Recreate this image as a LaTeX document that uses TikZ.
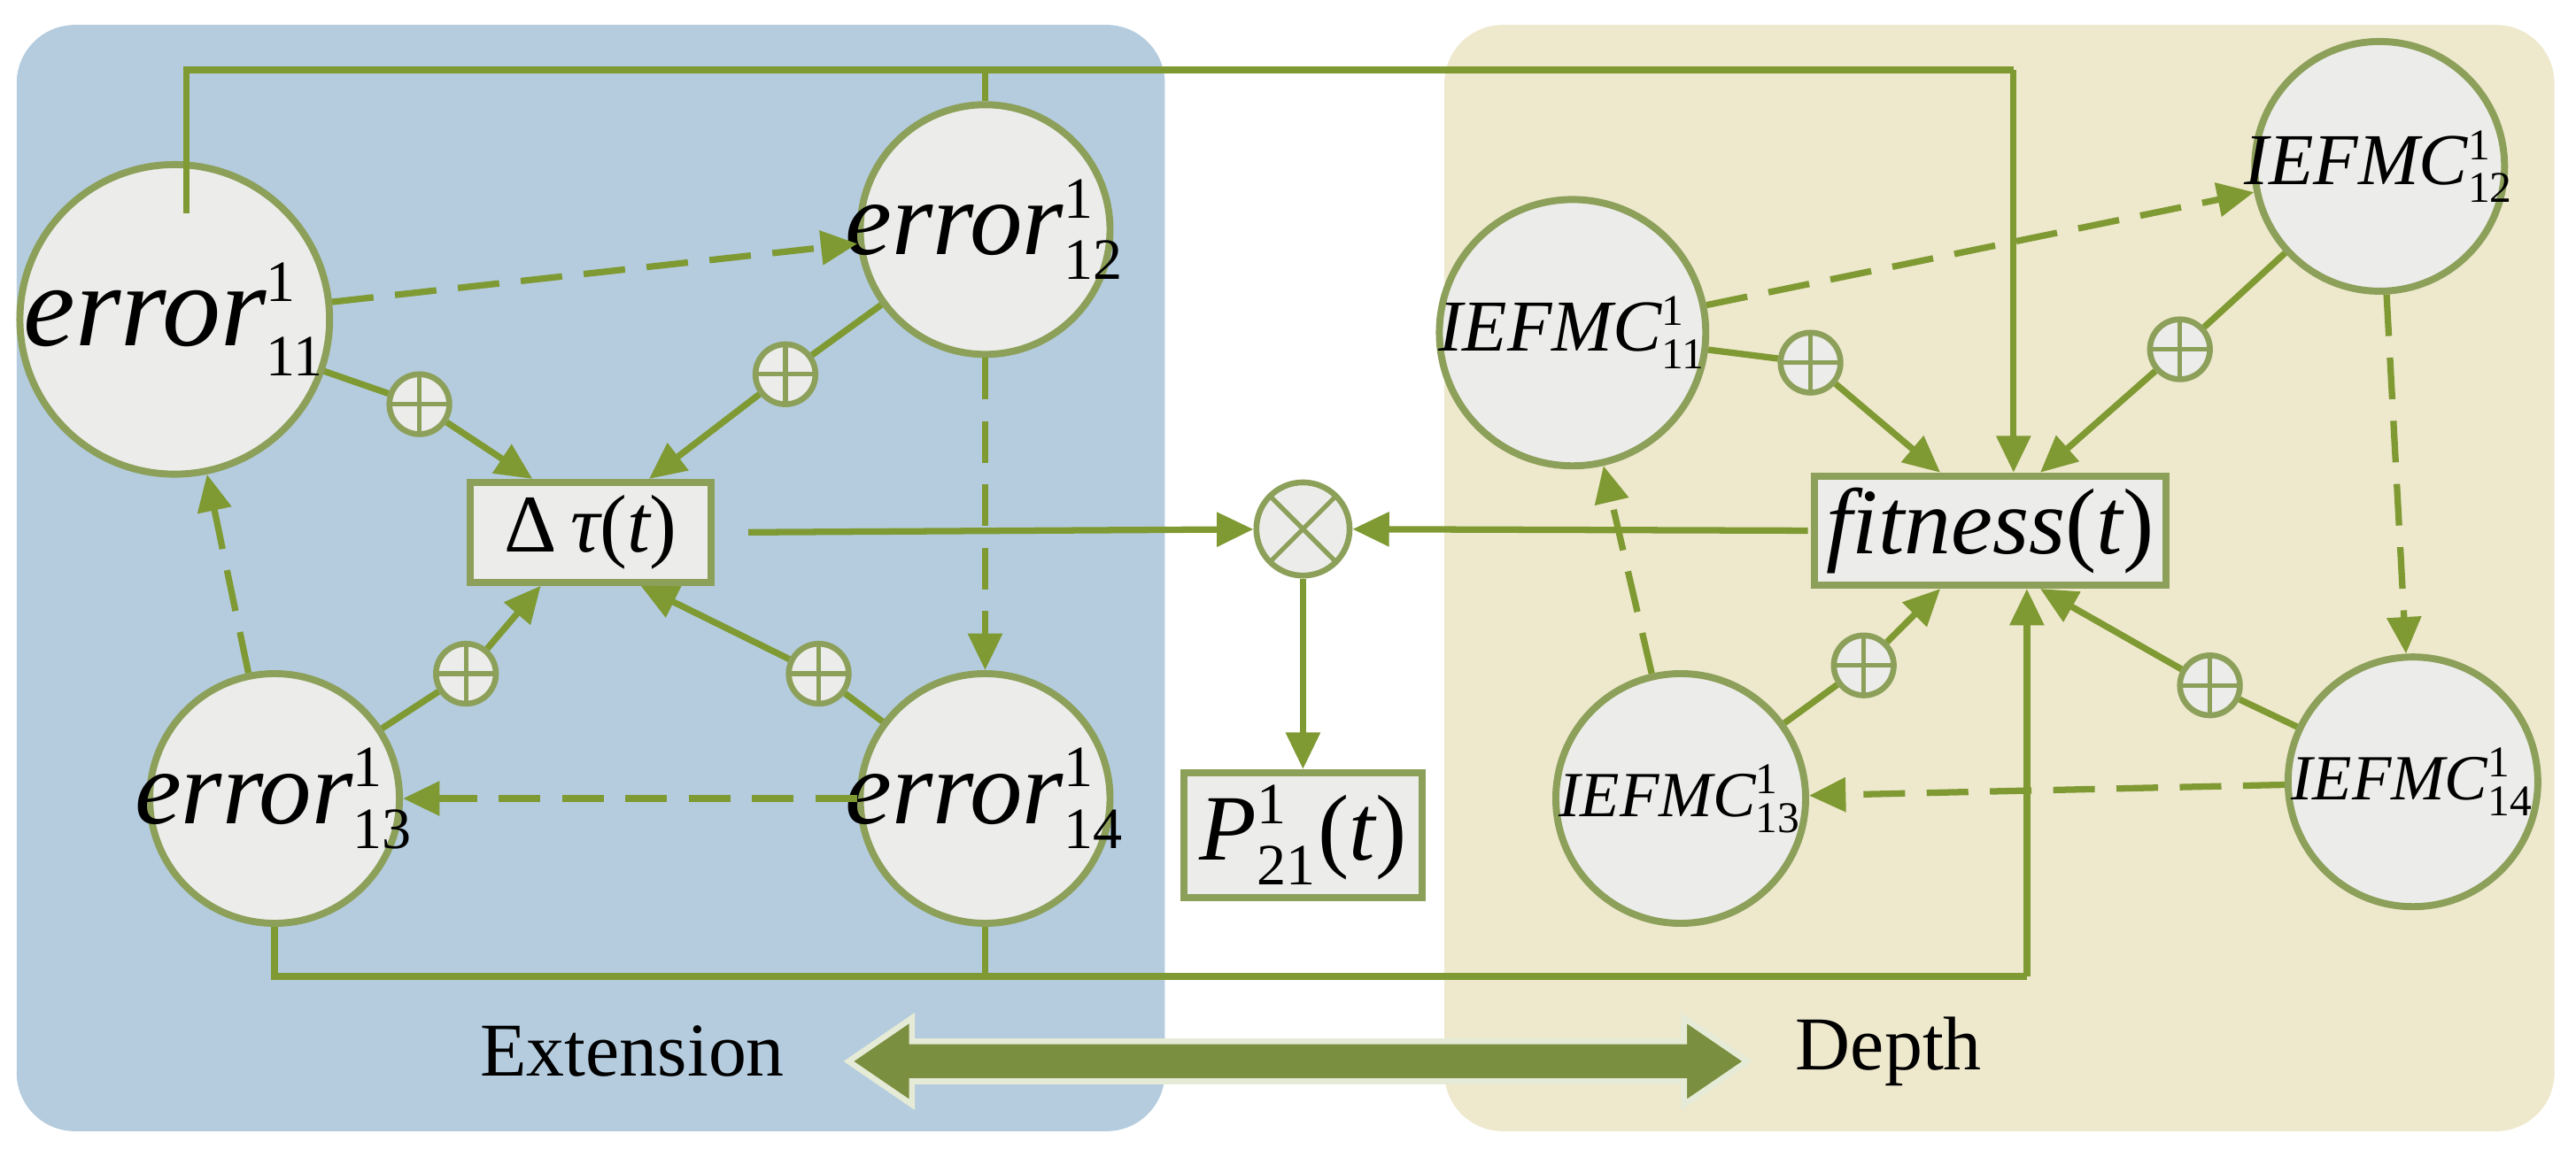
\documentclass[tikz,border=0pt]{standalone}
\usepackage{fontspec}
\setmainfont{Liberation Serif}
\usetikzlibrary{arrows.meta}
\definecolor{lg}{RGB}{127,154,50}
\definecolor{bluep}{RGB}{180,204,222}
\definecolor{beige}{RGB}{238,232,205}
\definecolor{cfill}{RGB}{236,236,234}
\definecolor{cdraw}{RGB}{140,160,90}
\newcommand\supsub[2]{$^{\mbox{\fontsize{10}{10}\selectfont\upshape #1}}_{\mbox{\fontsize{10}{10}\selectfont\upshape #2}}$}
\newcommand\supsubs[2]{$^{\mbox{\fontsize{7.5}{8}\selectfont\upshape #1}}_{\mbox{\fontsize{7.5}{8}\selectfont\upshape #2}}$}
\begin{document}
\begin{tikzpicture}[x=0.01cm,y=-0.01cm,
  big/.style={circle,draw=cdraw,fill=cfill,line width=1.2pt,inner sep=0pt},
  box/.style={rectangle,draw=cdraw,fill=cfill,line width=1.2pt,inner sep=2pt},
  op/.style={circle,draw=cdraw,fill=cfill,line width=1pt,minimum size=0.36cm,inner sep=0pt,
    path picture={\draw[cdraw,line width=0.8pt] (path picture bounding box.north) -- (path picture bounding box.south) (path picture bounding box.west) -- (path picture bounding box.east);}},
  ot/.style={circle,draw=cdraw,fill=cfill,line width=1pt,minimum size=0.56cm,inner sep=0pt,
    path picture={\draw[cdraw,line width=0.8pt] (path picture bounding box.north west) -- (path picture bounding box.south east) (path picture bounding box.north east) -- (path picture bounding box.south west);}},
  ln/.style={draw=lg,line width=1.1pt},
  ar/.style={ln,-{Triangle[length=0.22cm,width=0.2cm]}},
  da/.style={ar,dash pattern=on 0.25cm off 0.13cm}]
\useasboundingbox (0,0) rectangle (1548,695);
\fill[bluep,rounded corners=0.35cm] (10,15) rectangle (700,680);
\fill[beige,rounded corners=0.35cm] (868,15) rectangle (1535,680);
% circles
\node[big,minimum size=1.86cm,label={[inner sep=0pt]center:\fontsize{20}{20}\selectfont\itshape error\supsub{1}{11}}] (e11) at (105,192) {};
\node[big,minimum size=1.5cm,label={[inner sep=0pt]center:\fontsize{18}{18}\selectfont\itshape error\supsub{1}{12}}] (e12) at (592,138) {};
\node[big,minimum size=1.5cm,label={[inner sep=0pt]center:\fontsize{18}{18}\selectfont\itshape error\supsub{1}{13}}] (e13) at (165,480) {};
\node[big,minimum size=1.5cm,label={[inner sep=0pt]center:\fontsize{18}{18}\selectfont\itshape error\supsub{1}{14}}] (e14) at (592,480) {};
\node[big,minimum size=1.6cm,label={[inner sep=0pt]center:\fontsize{12.5}{13}\selectfont\itshape IEFMC\supsubs{1}{11}}] (i11) at (945,200) {};
\node[big,minimum size=1.5cm,label={[inner sep=0pt]center:\fontsize{12.5}{13}\selectfont\itshape IEFMC\supsubs{1}{12}}] (i12) at (1430,100) {};
\node[big,minimum size=1.5cm,label={[inner sep=0pt]center:\fontsize{11}{12}\selectfont\itshape IEFMC\supsubs{1}{13}}] (i13) at (1010,480) {};
\node[big,minimum size=1.5cm,label={[inner sep=0pt]center:\fontsize{11}{12}\selectfont\itshape IEFMC\supsubs{1}{14}}] (i14) at (1450,470) {};
% boxes
\node[box,minimum width=1.45cm,minimum height=0.6cm] (dt) at (355,320) {\fontsize{14}{14}\selectfont Δ\,\itshape τ\upshape(\itshape t\upshape)};
\node[box,minimum width=2.08cm,minimum height=0.62cm] (fit) at (1196,319) {\fontsize{16}{16}\selectfont\itshape fitness\upshape(\itshape t\upshape)};
\node[box,minimum width=1.43cm,minimum height=0.75cm] (P) at (783,502) {\fontsize{16}{16}\selectfont\itshape P\supsub{1}{21}\upshape(\itshape t\upshape)};
\node[ot] (ox) at (783,318) {};
% plus nodes
\node[op] (p1) at (252,243) {};
\node[op] (p2) at (472,225) {};
\node[op] (p3) at (280,405) {};
\node[op] (p4) at (492,405) {};
\node[op] (q1) at (1088,218) {};
\node[op] (q2) at (1310,210) {};
\node[op] (q3) at (1120,400) {};
\node[op] (q4) at (1328,412) {};
% solid with plus
\draw[ln] (e11) -- (p1); \draw[ar] (p1) -- ([xshift=-0.35cm]dt.north);
\draw[ln] (e12) -- (p2); \draw[ar] (p2) -- ([xshift=0.35cm]dt.north);
\draw[ln] (e13) -- (p3); \draw[ar] (p3) -- ([xshift=-0.3cm]dt.south);
\draw[ln] (e14) -- (p4); \draw[ar] (p4) -- ([xshift=0.3cm]dt.south);
\draw[ln] (i11) -- (q1); \draw[ar] (q1) -- ([xshift=-0.3cm]fit.north);
\draw[ln] (i12) -- (q2); \draw[ar] (q2) -- ([xshift=0.3cm]fit.north);
\draw[ln] (i13) -- (q3); \draw[ar] (q3) -- ([xshift=-0.3cm]fit.south);
\draw[ln] (i14) -- (q4); \draw[ar] (q4) -- ([xshift=0.3cm]fit.south);
% dashed
\draw[da] (e11) -- (e12);
\draw[da] (e12) -- (e14);
\draw[da] (e14) -- (e13);
\draw[da] (e13) -- (e11);
\draw[da] (i11) -- (i12);
\draw[da] (i12) -- (i14);
\draw[da] (i14) -- (i13);
\draw[da] (i13) -- (i11);
% to otimes
\draw[ar] ([xshift=0.2cm]dt.east) -- (ox);
\draw[ar] ([xshift=-0.02cm]fit.west) -- (ox);
\draw[ar] (ox) -- (P);
% top and bottom
\coordinate (t1) at (112,42); \coordinate (t2) at (1210,42);
\coordinate (t0) at (112,128);
\draw[ln] (t0) -- (t1) -- (t2);
\draw[ar] (t2) -- (t2 |- fit.north);
\draw[ln] (e12.north) -- (e12.north |- t1);
\coordinate (b1) at (165,587); \coordinate (b2) at (1218,587);
\draw[ln] (e13.south) -- (b1) -- (b2);
\draw[ar] (b2) -- (b2 |- fit.south);
\draw[ln] (e14.south) -- (e14.south |- b1);
% labels
\node (ext) at (380,632) {\fontsize{13}{13}\selectfont Extension};
\node (dep) at (1135,632) {\fontsize{13}{13}\selectfont Depth};
% big double arrow
\filldraw[fill=lg!85!black!90,draw=white!80!lg,line width=1pt]
  (510,638) -- (548,612) -- (548,626) -- (1012,626) -- (1012,612) -- (1050,638)
  -- (1012,664) -- (1012,650) -- (548,650) -- (548,664) -- cycle;
\end{tikzpicture}
\end{document}
